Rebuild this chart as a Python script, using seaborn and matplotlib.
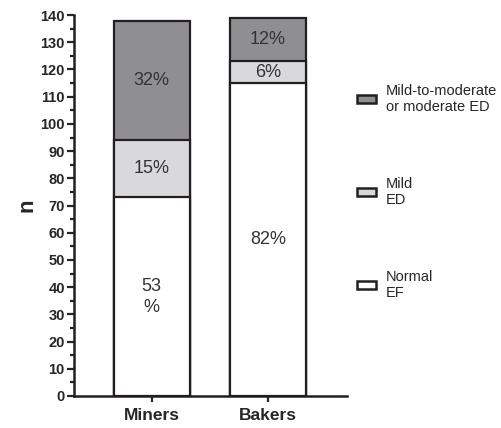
import numpy as np
import pandas as pd
import matplotlib
matplotlib.use("Agg")
import matplotlib.pyplot as plt
from matplotlib.patches import Patch
from matplotlib.ticker import MultipleLocator
import seaborn as sns

# data
groups = ["Miners", "Bakers"]
normal_ef = [73, 115]
mild_ed = [21, 8]
moderate_ed = [44, 16]
pct_normal = ["53\n%", "82%"]
pct_mild = ["15%", "6%"]
pct_moderate = ["32%", "12%"]
legend_labels = ["Mild-to-moderate\nor moderate ED", "Mild\nED", "Normal\nEF"]

colors = {"moderate": "#8f8f91", "mild": "#d9d9db", "normal": "#ffffff"}
edge = "#231f20"

df = pd.DataFrame({"group": groups, "normal": normal_ef, "mild": mild_ed, "moderate": moderate_ed})
df["lvl2"] = df["normal"] + df["mild"]
df["lvl3"] = df["lvl2"] + df["moderate"]

sns.set_style("ticks")
plt.rcParams["font.family"] = ["Liberation Sans", "DejaVu Sans"]

fig = plt.figure(figsize=(5.02, 4.28), dpi=100)
ax = fig.add_axes([0.147, 0.0748, 0.544, 0.890])

# stacked bars drawn as overlapping cumulative layers
for col, c in [("lvl3", colors["moderate"]), ("lvl2", colors["mild"]), ("normal", colors["normal"])]:
    sns.barplot(data=df, x="group", y=col, color=c, edgecolor=edge, linewidth=1.6,
                width=0.655, saturation=1, ax=ax)

# percentage labels in the middle of each segment
for i in range(len(groups)):
    segs = [(0, df["normal"][i], pct_normal[i]),
            (df["normal"][i], df["lvl2"][i], pct_mild[i]),
            (df["lvl2"][i], df["lvl3"][i], pct_moderate[i])]
    for lo, hi, txt in segs:
        ax.text(i, (lo + hi) / 2, txt, ha="center", va="center", fontsize=13,
                color="#333333", linespacing=1.3)

ax.set_xlim(-0.672, 1.681)
ax.set_ylim(0, 140)
ax.yaxis.set_major_locator(MultipleLocator(10))
ax.yaxis.set_minor_locator(MultipleLocator(5))
ax.tick_params(axis="y", which="major", length=5, width=1.6, labelsize=10.5, pad=1.5)
ax.tick_params(axis="y", which="minor", length=3, width=1.6)
ax.tick_params(axis="x", length=4, width=1.6, labelsize=12.5, pad=5)
for lab in ax.get_yticklabels() + ax.get_xticklabels():
    lab.set_fontweight("bold")
ax.set_xlabel("")
ax.set_ylabel("n", fontsize=16, fontweight="bold", labelpad=2)
sns.despine(ax=ax)
for s in ["left", "bottom"]:
    ax.spines[s].set_linewidth(1.8)
    ax.spines[s].set_color(edge)

handles = [Patch(facecolor=colors["moderate"], edgecolor=edge, linewidth=1.8),
           Patch(facecolor=colors["mild"], edgecolor=edge, linewidth=1.8),
           Patch(facecolor=colors["normal"], edgecolor=edge, linewidth=1.8)]
fig.legend(handles, legend_labels, loc="upper left", bbox_to_anchor=(0.685, 0.835),
           frameon=False, fontsize=10.5, handlelength=1.3, handleheight=0.45,
           handletextpad=0.7, labelspacing=4.3, alignment="left")

fig.savefig("out.png", dpi=100)
